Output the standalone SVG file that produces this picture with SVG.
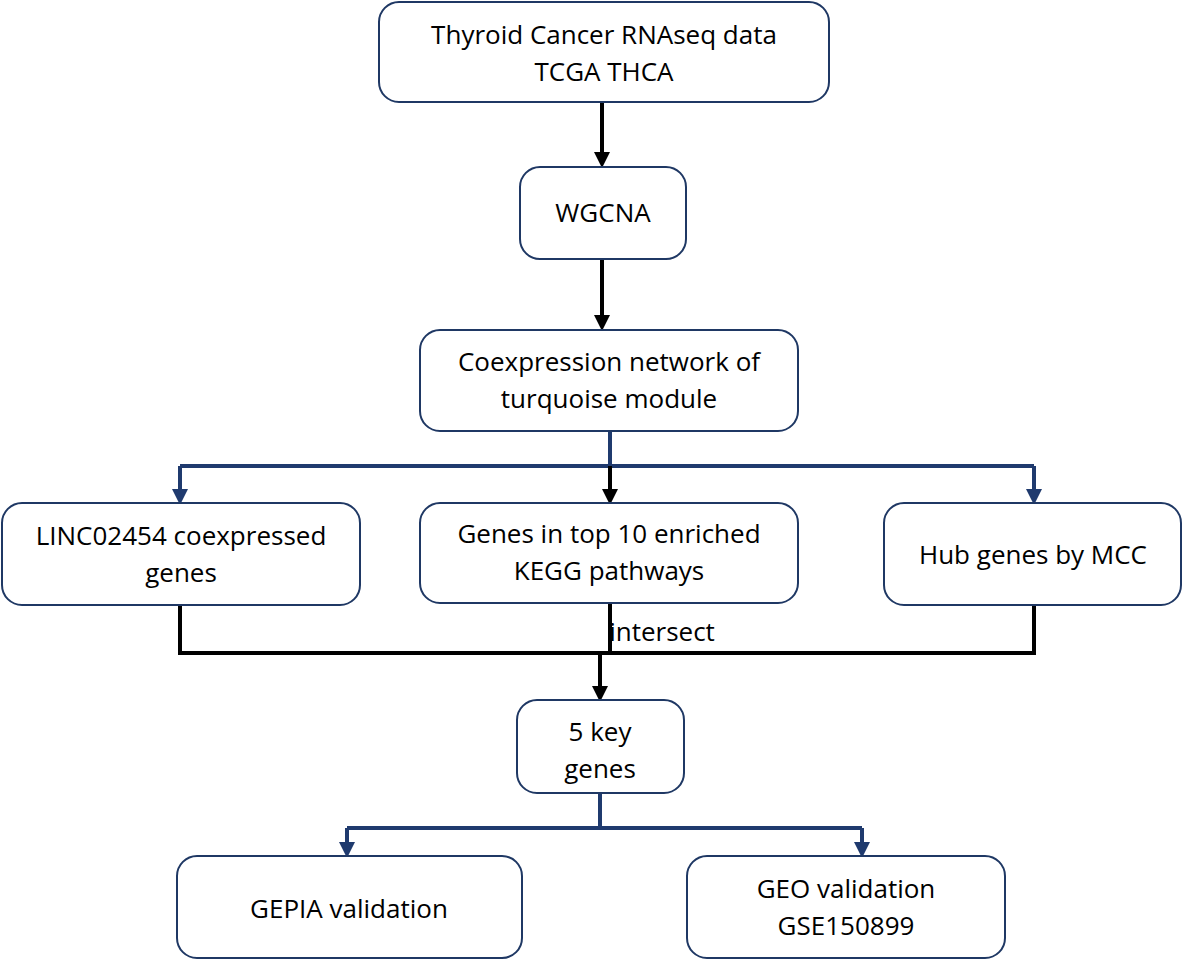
<svg xmlns="http://www.w3.org/2000/svg" width="1183" height="960" viewBox="0 0 1183 960">
<style>
.n rect{fill:#fff;stroke:#1f3864;stroke-width:2}
text{font-family:"Open Sans","Liberation Sans",sans-serif;font-size:26px;fill:#000;text-anchor:middle}
.k{stroke:#000;stroke-width:4;fill:none}
.b{stroke:#1f3a6e;stroke-width:4;fill:none}
</style>
<defs>
<marker id="ak" markerWidth="4" markerHeight="4" refX="2" refY="2" orient="auto" markerUnits="strokeWidth" viewBox="0 0 4 4"><path d="M0,0L4,2L0,4z" fill="#000"/></marker>
<marker id="ab" markerWidth="4" markerHeight="4" refX="2" refY="2" orient="auto" markerUnits="strokeWidth" viewBox="0 0 4 4"><path d="M0,0L4,2L0,4z" fill="#1f3a6e"/></marker>
</defs>
<g id="connectors">
<path class="k" d="M602,102V160" marker-end="url(#ak)"/>
<path class="k" d="M602,259V323" marker-end="url(#ak)"/>
<path class="b" d="M610,431V466M180,466H1034"/>
<path class="b" d="M180,466V497" marker-end="url(#ab)"/>
<path class="b" d="M1034,466V497" marker-end="url(#ab)"/>
<path class="k" d="M610,466V497" marker-end="url(#ak)"/>
<path class="k" d="M180,605V653H1034V605M610,603V653"/>
<path class="k" d="M600,653V694" marker-end="url(#ak)"/>
<path class="b" d="M600,793V828M347,828H862"/>
<path class="b" d="M347,828V850" marker-end="url(#ab)"/>
<path class="b" d="M862,828V850" marker-end="url(#ab)"/>
<text x="662" y="641">intersect</text>
</g>
<g id="n1" class="n"><rect x="379" y="2" width="450" height="100" rx="20"/><text x="604" y="44">Thyroid Cancer RNAseq data</text><text x="604" y="81">TCGA THCA</text></g>
<g id="n2" class="n"><rect x="520" y="167" width="166" height="92" rx="20"/><text x="603" y="222">WGCNA</text></g>
<g id="n3" class="n"><rect x="420" y="330" width="378" height="101" rx="20"/><text x="609" y="371">Coexpression network of</text><text x="609" y="408">turquoise module</text></g>
<g id="n4" class="n"><rect x="2" y="503" width="358" height="102" rx="20"/><text x="181" y="545">LINC02454 coexpressed</text><text x="181" y="582">genes</text></g>
<g id="n5" class="n"><rect x="420" y="503" width="378" height="100" rx="20"/><text x="609" y="543">Genes in top 10 enriched</text><text x="609" y="580">KEGG pathways</text></g>
<g id="n6" class="n"><rect x="884" y="503" width="297" height="102" rx="20"/><text x="1033" y="564">Hub genes by MCC</text></g>
<g id="n7" class="n"><rect x="517" y="700" width="167" height="93" rx="20"/><text x="600" y="741">5 key</text><text x="600" y="778">genes</text></g>
<g id="n8" class="n"><rect x="177" y="856" width="345" height="102" rx="20"/><text x="349" y="918">GEPIA validation</text></g>
<g id="n9" class="n"><rect x="687" y="856" width="318" height="102" rx="20"/><text x="846" y="898">GEO validation</text><text x="846" y="935">GSE150899</text></g>
</svg>
